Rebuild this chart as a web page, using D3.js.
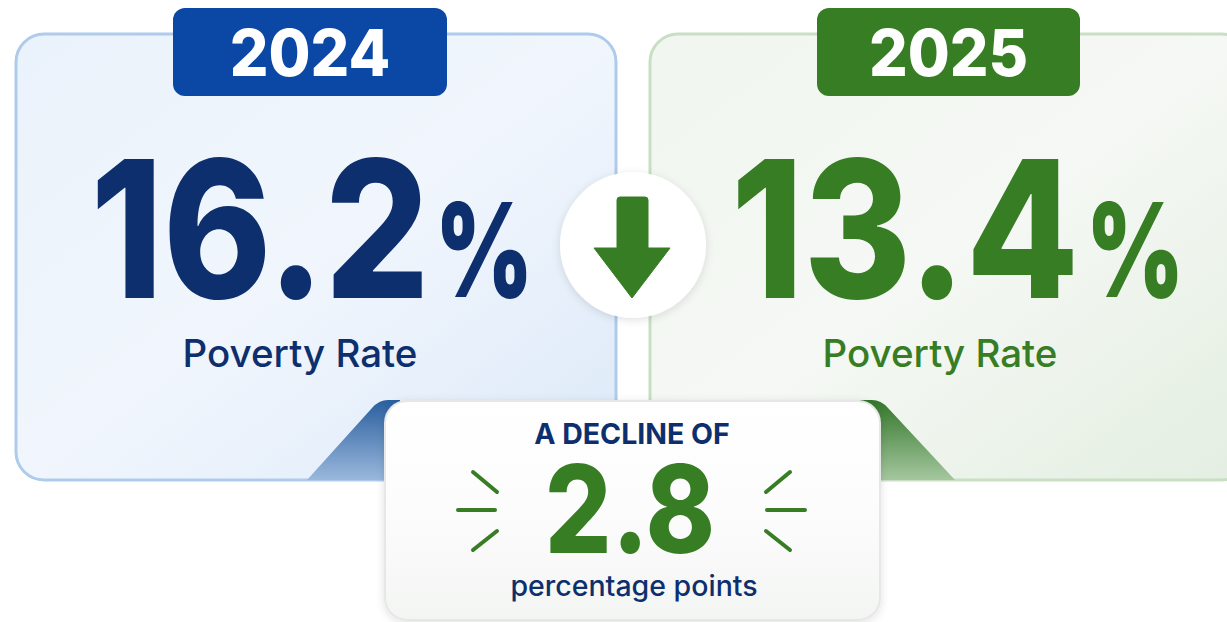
<!DOCTYPE html>
<html lang="en">
  <head>
    <meta charset="UTF-8" />
    <title>Poverty Rate 2024 vs 2025</title>
    <script src="https://d3js.org/d3.v7.min.js"></script>
    <style>
      html, body { margin: 0; padding: 0; background: #fff; overflow: hidden; }
      svg { display: block; }
      text { font-family: Inter, sans-serif; text-anchor: middle; }
      .rate, .delta { font-weight: 800; }
      .pct { font-weight: 900; }
      .year { font-weight: 800; }
      .label { font-weight: 500; }
      .sub { font-weight: 700; }
    </style>
  </head>
  <body>
    <svg width="1227" height="622"></svg>

    <script>
      const years = ["2024", "2025"];
      const rates = [16.2, 13.4];
      const rateLabel = "Poverty Rate";
      const decline = 2.8;
      const declineTop = "A DECLINE OF";
      const declineBottom = "percentage points";

      const svg = d3.select("svg");
      const defs = svg.append("defs");

      const navy = "#0e2f6d";
      const green = "#367d24";

      // per-year styling and layout, in year order
      const cardX = d3.scaleOrdinal().domain(years).range([16, 650]);
      const cardW = d3.scaleOrdinal().domain(years).range([600, 600]);
      const badgeX = d3.scaleOrdinal().domain(years).range([173, 817]);
      const badgeW = d3.scaleOrdinal().domain(years).range([274, 263]);
      const badgeFill = d3.scaleOrdinal().domain(years).range(["#0b48a5", green]);
      const border = d3.scaleOrdinal().domain(years).range(["#aecbec", "#c8dfc4"]);
      const ink = d3.scaleOrdinal().domain(years).range([navy, green]);
      const rateX = d3.scaleOrdinal().domain(years).range([260, 905]);
      const pctX = d3.scaleOrdinal().domain(years).range([484, 1135]);
      const labelX = d3.scaleOrdinal().domain(years).range([300, 940]);

      function gradient(id, x1, y1, x2, y2, stops) {
        const g = defs.append("linearGradient").attr("id", id)
          .attr("x1", x1).attr("y1", y1).attr("x2", x2).attr("y2", y2);
        stops.forEach((s) => g.append("stop").attr("offset", s[0]).attr("stop-color", s[1]));
      }
      gradient("card2024", 0, 0, 1, 1, [[0, "#eaf2fb"], [0.5, "#f1f6fd"], [1, "#dce9f8"]]);
      gradient("card2025", 0, 0, 1, 1, [[0, "#f1f6f0"], [0.5, "#f5f8f4"], [1, "#e3eee1"]]);
      gradient("wedge2024", 0, 0, 0, 1, [[0, "#2a5f9f"], [1, "#9ab8dc"]]);
      gradient("wedge2025", 0, 0, 0, 1, [[0, "#33762a"], [1, "#a5c79f"]]);
      gradient("panel", 0, 0, 0, 1, [[0, "#ffffff"], [0.5, "#fcfcfc"], [1, "#f3f5f3"]]);

      const shadow = defs.append("filter").attr("id", "shadow")
        .attr("x", "-20%").attr("y", "-20%").attr("width", "140%").attr("height", "140%");
      shadow.append("feDropShadow").attr("dx", 0).attr("dy", 2).attr("stdDeviation", 4)
        .attr("flood-color", "#000").attr("flood-opacity", 0.12);

      // Tarjetas
      const card = svg.append("g").selectAll("g").data(years).enter().append("g");
      card.append("rect")
        .attr("x", (d) => cardX(d))
        .attr("y", 34)
        .attr("width", (d) => cardW(d))
        .attr("height", 446)
        .attr("rx", 28)
        .attr("fill", (d) => `url(#card${d})`)
        .attr("stroke", (d) => border(d))
        .attr("stroke-width", 3);

      // Pestañas que bajan hacia el panel central
      const wedges = svg.append("g");
      wedges.append("path").attr("d", "M307,480 L372,408 Q379,400 388,400 L400,400 L400,480 Z")
        .attr("fill", "url(#wedge2024)");
      wedges.append("path").attr("d", "M955,480 L888,408 Q881,400 872,400 L860,400 L860,480 Z")
        .attr("fill", "url(#wedge2025)");

      // Año
      card.append("rect")
        .attr("x", (d) => badgeX(d))
        .attr("y", 8)
        .attr("width", (d) => badgeW(d))
        .attr("height", 88)
        .attr("rx", 12)
        .attr("fill", (d) => badgeFill(d));
      card.append("text")
        .attr("class", "year")
        .attr("transform", (d) => `translate(${badgeX(d) + badgeW(d) / 2},76) scale(0.95,1)`)
        .attr("font-size", 64)
        .attr("fill", "#fff")
        .text((d) => d);

      // Valores
      card.append("text")
        .attr("class", "rate")
        .attr("transform", (d) => `translate(${rateX(d)},298) scale(0.86,1)`)
        .attr("font-size", 191)
        .attr("fill", (d) => ink(d))
        .text((d, i) => rates[i].toFixed(1));
      card.append("text")
        .attr("class", "pct")
        .attr("transform", (d) => `translate(${pctX(d)},297) scale(0.72,1)`)
        .attr("font-size", 130)
        .attr("fill", (d) => ink(d))
        .text("%");
      card.append("text")
        .attr("class", "label")
        .attr("x", (d) => labelX(d))
        .attr("y", 367)
        .attr("font-size", 38.5)
        .attr("fill", (d) => ink(d))
        .text(rateLabel);

      // Flecha central
      svg.append("circle")
        .attr("cx", 633).attr("cy", 245).attr("r", 73)
        .attr("fill", "#fff").attr("filter", "url(#shadow)");
      svg.append("path")
        .attr("d", "M617,200 Q617,197 620,197 L645,197 Q648,197 648,200 L648,248 L670,248 L632,298 L594,248 L617,248 Z")
        .attr("fill", green).attr("stroke", green).attr("stroke-width", 1).attr("stroke-linejoin", "round");

      // Panel de la caída
      const panel = svg.append("g");
      panel.append("rect")
        .attr("x", 385).attr("y", 401).attr("width", 495).attr("height", 219).attr("rx", 22)
        .attr("fill", "url(#panel)").attr("stroke", "#e6e7e6").attr("stroke-width", 2)
        .attr("filter", "url(#shadow)");
      panel.append("text").attr("class", "sub")
        .attr("transform", "translate(632,444) scale(1,1)")
        .attr("font-size", 28.5).attr("fill", navy).text(declineTop);
      panel.append("text").attr("class", "delta")
        .attr("transform", "translate(630,553) scale(0.86,1)")
        .attr("font-size", 122).attr("fill", green)
        .text(decline.toFixed(1));
      panel.append("text").attr("class", "label").attr("x", 634).attr("y", 596)
        .attr("font-size", 28.5).attr("fill", navy).text(declineBottom);

      // Rayitas a cada lado del número
      const sparks = [
        [473, 472, 497, 492], [458, 510, 495, 510], [497, 531, 473, 550],
        [790, 472, 766, 492], [767, 510, 805, 510], [766, 531, 790, 550],
      ];
      panel.selectAll("line").data(sparks).enter().append("line")
        .attr("x1", (d) => d[0]).attr("y1", (d) => d[1])
        .attr("x2", (d) => d[2]).attr("y2", (d) => d[3])
        .attr("stroke", green).attr("stroke-width", 4).attr("stroke-linecap", "round");
    </script>
  </body>
</html>
